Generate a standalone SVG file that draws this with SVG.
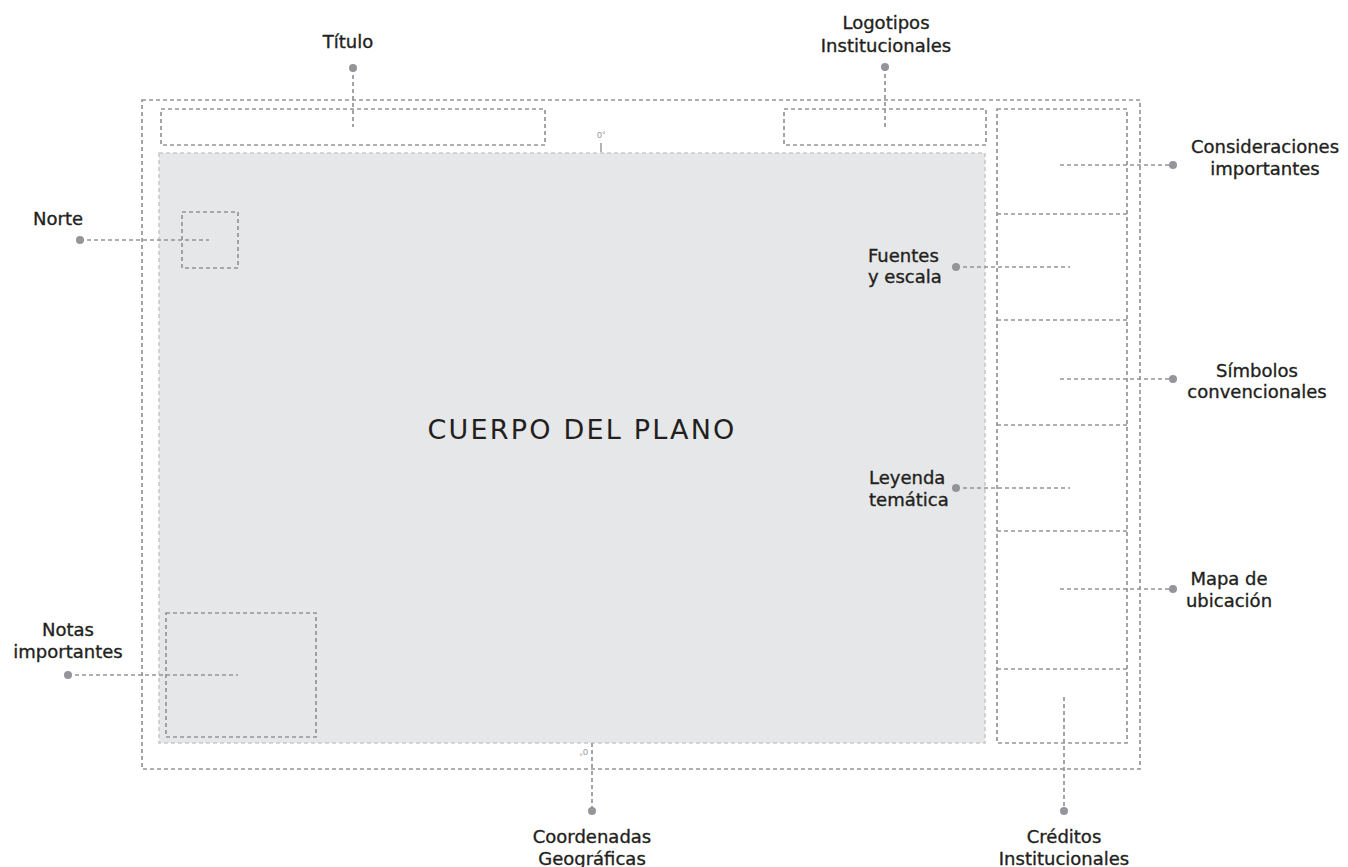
<svg xmlns="http://www.w3.org/2000/svg" width="1348" height="867" viewBox="0 0 1348 867">
<style>
.box{fill:none;stroke:#939598;stroke-width:1.7;stroke-dasharray:4 3}
.map{fill:#e6e7e8;stroke:#c9cacc;stroke-width:1.6;stroke-dasharray:4 3}
.lead{fill:none;stroke:#939598;stroke-width:1.7;stroke-dasharray:4 3}
.dot{fill:#939598}
.lbl{font-family:"DejaVu Sans","Noto Sans",sans-serif;font-size:18px;fill:#231f20;stroke:#231f20;stroke-width:0.35}
.mid{text-anchor:middle}
.big{font-family:"DejaVu Sans","Noto Sans",sans-serif;font-size:27px;fill:#231f20;letter-spacing:2.2px;text-anchor:middle}
.deg{font-family:"Liberation Sans",sans-serif;font-size:9px;fill:#939598}
</style>
<rect width="1348" height="867" fill="#ffffff"/>
<g id="marco"><rect class="box" x="142" y="100" width="998" height="669"/></g>
<g id="titulo-box"><rect class="box" x="161" y="109" width="384" height="36"/></g>
<g id="logos-box"><rect class="box" x="784" y="109" width="202" height="36"/></g>
<g id="cuerpo"><rect class="map" x="159" y="153" width="826" height="590"/>
<text class="big" x="582" y="439">CUERPO DEL PLANO</text></g>
<g id="norte-box"><rect class="box" x="182" y="212" width="56" height="56"/></g>
<g id="notas-box"><rect class="box" x="166" y="613" width="150" height="124"/></g>
<g id="panel-derecho"><rect class="box" x="997" y="109" width="130" height="634"/>
<line class="box" x1="997" y1="214" x2="1127" y2="214"/>
<line class="box" x1="997" y1="320" x2="1127" y2="320"/>
<line class="box" x1="997" y1="425" x2="1127" y2="425"/>
<line class="box" x1="997" y1="531" x2="1127" y2="531"/>
<line class="box" x1="997" y1="669" x2="1127" y2="669"/></g>
<g id="grados">
<text class="deg" x="597" y="138">0°</text>
<line x1="601" y1="143" x2="601" y2="152" stroke="#939598" stroke-width="1.4"/>
<text class="deg" transform="rotate(180 583 752)" x="578" y="755">0°</text>
</g>
<g id="conectores">
<line class="lead" x1="353" y1="68" x2="353" y2="127"/>
<line class="lead" x1="885" y1="67" x2="885" y2="127"/>
<line class="lead" x1="1060" y1="165" x2="1173" y2="165"/>
<line class="lead" x1="956" y1="267" x2="1070" y2="267"/>
<line class="lead" x1="1060" y1="379" x2="1173" y2="379"/>
<line class="lead" x1="956" y1="488" x2="1070" y2="488"/>
<line class="lead" x1="1060" y1="589" x2="1173" y2="589"/>
<line class="lead" x1="80" y1="240" x2="209" y2="240"/>
<line class="lead" x1="68" y1="675" x2="238" y2="675"/>
<line class="lead" x1="592" y1="743" x2="592" y2="811"/>
<line class="lead" x1="1064" y1="697" x2="1064" y2="811"/>
<circle class="dot" cx="353" cy="68" r="4"/>
<circle class="dot" cx="885" cy="67" r="4"/>
<circle class="dot" cx="1173" cy="165" r="4"/>
<circle class="dot" cx="956" cy="267" r="4"/>
<circle class="dot" cx="1173" cy="379" r="4"/>
<circle class="dot" cx="956" cy="488" r="4"/>
<circle class="dot" cx="1173" cy="589" r="4"/>
<circle class="dot" cx="80" cy="240" r="4"/>
<circle class="dot" cx="68" cy="675" r="4"/>
<circle class="dot" cx="592" cy="811" r="4"/>
<circle class="dot" cx="1064" cy="811" r="4"/>
</g>
<g id="lbl-titulo"><text class="lbl mid" x="348" y="48">Título</text></g>
<g id="lbl-logotipos"><text class="lbl mid" x="886" y="29">Logotipos</text><text class="lbl mid" x="886" y="52">Institucionales</text></g>
<g id="lbl-consideraciones"><text class="lbl mid" x="1265" y="153">Consideraciones</text><text class="lbl mid" x="1265" y="175">importantes</text></g>
<g id="lbl-norte"><text class="lbl" x="33" y="225">Norte</text></g>
<g id="lbl-fuentes"><text class="lbl" x="868" y="262">Fuentes</text><text class="lbl" x="868" y="283">y escala</text></g>
<g id="lbl-simbolos"><text class="lbl mid" x="1257" y="377">Símbolos</text><text class="lbl mid" x="1257" y="398">convencionales</text></g>
<g id="lbl-leyenda"><text class="lbl" x="869" y="484">Leyenda</text><text class="lbl" x="869" y="506">temática</text></g>
<g id="lbl-mapa"><text class="lbl mid" x="1229" y="585">Mapa de</text><text class="lbl mid" x="1229" y="607">ubicación</text></g>
<g id="lbl-notas"><text class="lbl mid" x="68" y="636">Notas</text><text class="lbl mid" x="68" y="658">importantes</text></g>
<g id="lbl-coordenadas"><text class="lbl mid" x="592" y="843">Coordenadas</text><text class="lbl mid" x="592" y="865">Geográficas</text></g>
<g id="lbl-creditos"><text class="lbl mid" x="1064" y="843">Créditos</text><text class="lbl mid" x="1064" y="865">Institucionales</text></g>
</svg>
